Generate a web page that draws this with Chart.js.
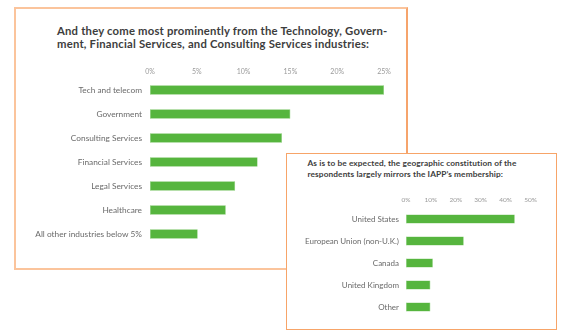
<!DOCTYPE html>
<html><head><meta charset="utf-8">
<script src="https://cdn.jsdelivr.net/npm/chart.js@4"></script>
<style>
html,body{margin:0;padding:0;background:#fff;width:566px;height:335px;overflow:hidden;position:relative;font-family:Lato,sans-serif;}
.panel{position:absolute;background:#fff;box-sizing:border-box;}
#p1{left:14px;top:7px;width:394px;height:263px;border:2px solid #fbc49c;border-right-color:#f6a46c;}
#p2{left:286px;top:153px;width:271px;height:177px;border:1.5px solid #f7a468;}
.title{position:absolute;white-space:nowrap;color:#3d3d3d;font-weight:700;}
#t1{left:41px;top:15px;font-size:11.3px;line-height:13px;letter-spacing:0.2px;}
#t2{left:20.5px;top:3.5px;font-size:8.3px;line-height:11px;letter-spacing:0.1px;}
canvas{position:absolute;}
#c1wrap{position:absolute;left:1px;top:46px;width:392px;height:200px;}
#c2wrap{position:absolute;left:1px;top:30.5px;width:268px;height:140px;}
</style></head>
<body>
<div class="panel" id="p1">
  <div class="title" id="t1">And they come most prominently from the Technology, Govern-<br>ment, Financial Services, and Consulting Services industries:</div>
  <div id="c1wrap"><canvas id="c1"></canvas></div>
</div>
<div class="panel" id="p2">
  <div class="title" id="t2">As is to be expected, the geographic constitution of the<br>respondents largely mirrors the IAPP’s membership:</div>
  <div id="c2wrap"><canvas id="c2"></canvas></div>
</div>
<script>
const industries = ["Tech and telecom","Government","Consulting Services","Financial Services","Legal Services","Healthcare","All other industries below 5%"];
const industryShare = [25, 15, 14.1, 11.5, 9.1, 8.1, 5.1];
const industryMax = 25, industryStep = 5;

const regions = ["United States","European Union (non-U.K.)","Canada","United Kingdom","Other"];
const regionShare = [43.7, 23.2, 10.8, 9.8, 9.8];
const regionMax = 50, regionStep = 10;

const GREEN = '#56b53e';

function makeChart(id, labels, data, max, step, opt){
  return new Chart(document.getElementById(id), {
    type: 'bar',
    data: { labels, datasets: [{ data, backgroundColor: GREEN, borderColor: '#7cc868', borderWidth: 0.6, borderSkipped: false, barPercentage: opt.bar, categoryPercentage: 1 }] },
    options: {
      indexAxis: 'y', responsive: true, maintainAspectRatio: false, animation: false,
      devicePixelRatio: 1,
      layout: { padding: opt.pad },
      plugins: { legend: { display: false }, tooltip: { enabled: false } },
      scales: {
        x: { position: 'top', min: 0, max: max,
             ticks: { stepSize: step, color: '#9a9a9a', font: { family: 'Lato', size: opt.tick }, padding: opt.tickPad, callback: v => v + '%' },
             grid: { display: false, drawTicks: false }, border: { display: false },
             afterFit: s => { s.height = opt.xh; s.paddingLeft = 0; s.paddingRight = 0; } },
        y: { ticks: { color: '#6a6a6a', font: { family: 'Lato', size: opt.lab }, padding: opt.labPad, autoSkip: false },
             grid: { display: false, drawTicks: false }, border: { display: false },
             afterFit: s => { s.width = opt.yw; s.paddingTop = 0; s.paddingBottom = 0; } }
      }
    }
  });
}
makeChart('c1', industries, industryShare, industryMax, industryStep,
  { bar: 0.4, pad: { left: 0, right: 25, top: 0, bottom: 9 }, xh: 23, yw: 133, tick: 7, tickPad: 2, lab: 8.3, labPad: 8 });
makeChart('c2', regions, regionShare, regionMax, regionStep,
  { bar: 0.42, pad: { left: 0, right: 25.5, top: 0, bottom: 7 }, xh: 23, yw: 118, tick: 6.5, tickPad: 4, lab: 8, labPad: 7 });
</script>
</body></html>
